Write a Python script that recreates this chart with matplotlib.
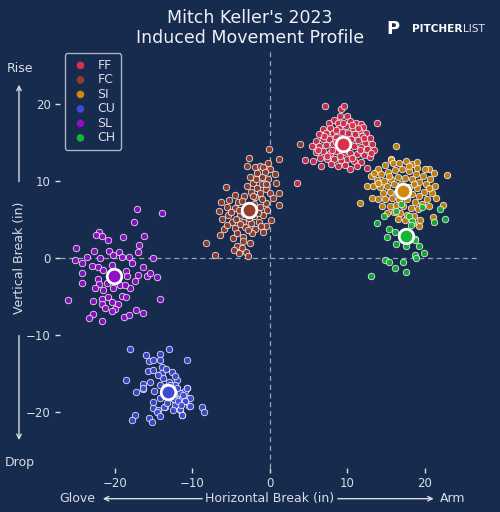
import matplotlib
matplotlib.use("Agg")
import matplotlib.pyplot as plt
from matplotlib.patches import FancyArrowPatch

# ---------------- data ----------------
pitch_types = ["FF", "FC", "SI", "CU", "SL", "CH"]
pitch_colors = ["#d8304d", "#953f2b", "#d0890c", "#4049d4", "#9010c8", "#12b733"]

ff_hb = [7.1, 9.2, 9.6, 9.1, 9.9, 13.8, 4.5, 5.6, 3.5, 6.6, 12.5, 10.4,
         7.6, 8.3, 8.8, 10.3, 11.1, 11.8, 12.0, 6.9, 7.8, 8.9, 9.8, 10.7, 11.5, 12.4,
         6.4, 7.3, 8.2, 9.3, 10.1, 11.0, 11.9, 12.9, 5.9, 6.8, 7.6, 8.5, 10.5, 11.4,
         12.3, 13.2, 5.4, 6.3, 7.2, 8.1, 10.8, 11.7, 12.6, 13.5, 6.0, 6.9, 7.7, 8.6,
         9.5, 10.3, 11.2, 12.1, 12.9, 6.5, 7.4, 8.3, 9.2, 10.0, 10.9, 11.8, 7.9, 8.8,
         9.7, 11.3, 8.6, 9.9, 7.0, 8.0, 9.0, 10.6, 11.6, 12.2, 9.4, 10.6, 8.5, 11.4,
         6.2, 13.0, 7.4]
ff_ivb = [19.7, 19.4, 19.7, 18.4, 18.4, 17.6, 12.7, 12.6, 9.8, 11.9, 11.7, 11.5,
          17.6, 17.9, 17.6, 17.8, 17.5, 17.4, 17.0, 16.8, 16.9, 16.9, 17.1, 16.9, 16.6, 16.2,
          16.1, 16.2, 16.3, 16.4, 16.3, 16.1, 15.8, 15.6, 15.2, 15.4, 15.5, 15.7, 15.5, 15.3,
          15.0, 14.8, 14.6, 14.5, 14.7, 14.8, 14.6, 14.4, 14.2, 14.0, 13.8, 13.9, 13.6, 13.9,
          13.8, 13.7, 13.5, 13.4, 13.1, 13.0, 12.8, 12.9, 12.7, 12.9, 12.6, 12.5, 12.2, 11.9,
          12.1, 11.9, 15.1, 15.0, 15.9, 14.0, 13.3, 13.0, 14.0, 15.6, 17.5, 17.3, 16.6, 16.9,
          14.0, 13.6, 13.3]

fc_hb = [-0.08, -2.71, 1.16, -3.0, -1.93, -1.29, -0.86, 0.0, -0.64, -1.63, -1.07, -2.58,
         -0.21, 0.73, -2.15, -1.07, -5.67, -1.63, -0.52, -2.5, 1.16, -1.29, 0.0, -4.5,
         -3.35, -1.93, 0.43, -6.36, -5.24, -4.08, -0.52, 1.16, -5.59, -4.5, -1.29, -0.34,
         -6.54, -5.37, -3.87, -2.06, -0.86, 0.09, -6.23, -4.94, -3.44, -2.49, -1.38, -5.93,
         -4.51, -3.22, -1.93, -0.52, -6.45, -4.73, -3.44, -2.36, -0.86, -8.25, -2.58, -4.3,
         -3.65, -4.64, -3.09, -3.95, -2.8, -7.14,
         -2.0, -3.0, -4.0, -3.4, -1.5, -2.7, -3.9, -4.4, -2.2, -1.0, -3.6, -5.0, -1.8,
         -0.5, -2.9, -4.2, -5.5, -1.2, -2.8, -3.5, 0.6, -0.3, 3.87]
fc_ivb = [14.15, 12.94, 12.85, 11.98, 11.86, 11.94, 11.77, 11.51, 11.2, 11.08, 10.56, 10.47,
          10.2, 9.78, 9.78, 9.56, 9.26, 9.04, 8.91, 8.61, 8.48, 8.39, 8.39, 8.18,
          8.05, 7.87, 7.74, 7.31, 7.53, 7.31, 7.18, 6.88, 6.66, 6.45, 6.66, 6.23,
          6.14, 5.58, 5.58, 5.45, 5.58, 4.93, 5.02, 4.71, 4.71, 4.5, 4.71, 3.72,
          3.85, 3.98, 3.72, 4.15, 2.98, 2.55, 2.77, 3.2, 3.42, 1.9, 1.99, 1.55,
          1.25, 1.03, 0.82, 0.69, 0.26, 0.39,
          7.0, 6.8, 6.2, 5.9, 5.9, 5.2, 4.4, 5.1, 8.1, 7.6, 7.4, 6.0, 10.3,
          9.6, 9.3, 3.2, 4.3, 4.2, 3.6, 2.2, 10.9, 12.4, 14.8]

si_hb = [16.3, 15.6, 15.6, 11.6, 12.5, 13.1, 13.2, 22.9, 22.4, 21.0, 19.3, 19.4,
         14.0, 14.9, 15.9, 16.7, 17.6, 18.3, 19.0, 20.6, 21.2, 13.5, 14.4, 15.3, 16.2,
         17.1, 18.0, 18.9, 19.8, 20.7, 13.8, 14.7, 15.6, 16.5, 17.4, 18.4, 19.3, 20.2,
         21.3, 13.3, 14.2, 15.1, 16.0, 16.9, 18.0, 19.0, 19.9, 20.9, 14.6, 15.5, 16.4,
         18.3, 19.3, 20.3, 21.4, 14.0, 14.9, 15.8, 16.7, 17.7, 18.7, 19.7, 20.6, 14.5,
         15.5, 16.3, 17.2, 18.2, 19.1, 15.1, 16.0, 16.8, 17.7, 18.6, 16.5, 17.5, 18.5,
         19.0, 17.9, 20.0, 15.4, 17.0, 18.6, 20.5, 14.0]
si_ivb = [14.5, 12.8, 12.7, 7.2, 9.3, 10.7, 7.75, 10.8, 6.9, 5.3, 4.2, 4.9,
          11.6, 12.1, 12.3, 12.4, 12.6, 12.2, 11.7, 11.6, 11.0, 11.0, 10.9, 11.2, 11.4,
          11.5, 11.3, 10.9, 10.6, 10.2, 10.1, 10.0, 10.3, 10.5, 10.4, 10.2, 9.9, 9.6,
          9.4, 9.3, 9.2, 9.4, 9.6, 9.6, 9.2, 9.1, 8.6, 8.4, 8.4, 8.6, 8.6,
          8.3, 8.1, 7.7, 7.8, 7.6, 7.7, 7.8, 7.7, 7.6, 7.3, 7.0, 6.7, 6.7,
          6.8, 6.9, 6.7, 6.5, 6.3, 5.9, 6.0, 5.8, 5.6, 5.5, 5.1, 4.9, 4.6,
          12.5, 11.9, 11.5, 10.7, 9.0, 9.6, 9.1, 9.8]

cu_hb = [-18.07, -16.05, -14.2, -13.04, -15.57, -15.06, -14.2, -10.76, -13.98, -15.7,
         -15.14, -13.98, -12.69, -13.77, -12.05, -18.59, -16.35, -15.49, -14.2, -13.0,
         -12.26, -16.43, -17.34, -14.93, -10.76, -11.83, -10.97, -14.2, -12.39, -11.4,
         -10.54, -15.06, -11.83, -10.97, -10.41, -15.06, -14.41, -13.55, -12.13, -11.62,
         -8.82, -8.52, -17.43, -14.63, -14.2, -11.4, -17.77, -15.57, -15.27,
         -16.35, -13.68, -11.35, -11.57, -10.37, -10.37, -10.93, -12.2, -12.43, -11.57,
         -10.71, -12.86,
         -12.6, -12.0, -13.5, -12.9, -11.9, -12.5, -13.3, -11.2, -12.2, -13.4, -14.5, -11.5]
cu_ivb = [-11.82, -12.6, -12.51, -11.86, -13.38, -13.25, -13.33, -13.33, -14.2, -14.76,
          -14.54, -14.98, -14.89, -15.63, -15.84, -15.93, -16.36, -16.19, -16.49, -16.19,
          -16.49, -17.01, -17.4, -17.27, -16.93, -17.58, -17.36, -18.23, -18.35, -18.23,
          -18.23, -18.79, -18.87, -18.66, -19.22, -19.52, -19.74, -19.39, -19.31, -19.83,
          -19.44, -20.09, -20.39, -20.09, -20.61, -20.48, -21.04, -20.82, -21.38,
          -16.93, -19.4, -20.39, -19.66, -19.22, -18.23, -18.66, -19.09, -18.36, -17.58,
          -16.93, -16.5,
          -17.0, -16.9, -16.8, -18.0, -18.6, -19.8, -18.9, -17.8, -15.4, -14.5, -15.2, -19.1]

sl_hb = [-17.12, -13.98, -17.55, -22.02, -22.5, -21.72, -20.95, -18.93, -16.26, -16.9,
         -25.04, -22.71, -20.73, -19.49, -17.08, -20.22, -23.66, -21.94, -19.14, -18.2,
         -15.14, -25.17, -24.3, -23.01, -22.15, -21.51, -20.43, -17.85, -16.35, -18.58,
         -24.26, -16.99, -15.92, -15.49, -14.54, -22.15, -18.5, -24.3, -17.42, -22.02,
         -20.99, -19.36, -18.07, -22.58, -21.51, -20.22, -18.71, -26.02, -22.88, -21.72,
         -20.86, -19.14, -18.58, -14.2, -21.72, -20.43, -19.57, -21.29, -20.0, -17.29,
         -16.35, -22.88, -23.31, -18.84, -18.2, -21.64, -20.43]
sl_ivb = [6.32, 5.8, 4.72, 3.42, 2.99, 2.86, 2.34, 2.77, 2.9, 1.69,
          1.34, 0.95, 0.95, 0.82, 0.73, 0.39, 0.17, 0.04, 0.08, 0.17,
          -0.04, -0.26, -0.6, -1.04, -1.21, -1.56, -0.91, -0.69, -1.13, -1.65,
          -1.91, -2.21, -2.34, -1.99, -2.51, -2.77, -2.34, -3.29, -2.94, -3.38,
          -3.29, -3.51, -3.94, -3.85, -4.16, -3.94, -3.51, -5.45, -5.58, -5.37,
          -5.11, -4.94, -5.11, -5.37, -5.97, -5.67, -5.97, -6.54, -6.67, -6.75,
          -7.1, -7.27, -7.84, -7.62, -7.4, -8.18, -6.84]

ch_hb = [16.3, 16.9, 19.6, 22.0, 22.6, 21.2, 14.7, 13.8, 15.4, 16.1, 15.1, 16.3, 17.6,
         18.8, 19.2, 19.96, 18.8, 18.9, 14.8, 15.4, 17.2, 16.2, 17.6, 13.1, 18.0, 18.3,
         18.2, 18.7]
ch_ivb = [6.15, 7.0, 6.6, 6.3, 5.0, 4.7, 5.4, 4.5, 3.7, 3.4, 2.7, 1.8, 1.6,
          2.5, 1.5, 0.6, 0.4, 0.04, -0.26, -0.47, -0.56, -1.34, -1.77, -2.3, 5.46, 4.85,
          4.3, 2.3]

# average movement per pitch (big markers)
avg_hb = [9.4, -2.7, 17.2, -13.2, -20.1, 17.6]
avg_ivb = [14.8, 6.2, 8.7, -17.45, -2.3, 2.8]

series_hb = [ff_hb, fc_hb, si_hb, cu_hb, sl_hb, ch_hb]
series_ivb = [ff_ivb, fc_ivb, si_ivb, cu_ivb, sl_ivb, ch_ivb]

x_ticks = [-20, -10, 0, 10, 20]
y_ticks = [-20, -10, 0, 10, 20]

# ---------------- style ----------------
BG = "#172b4f"
FG = "#d9dde4"

fig = plt.figure(figsize=(5.0, 5.12), dpi=100, facecolor=BG)
ax = fig.add_axes([0.12, 0.086, 0.838, 0.816], facecolor=BG)

ax.axhline(0, color="#b8bfcc", lw=0.9, ls=(0, (4, 3)), alpha=0.8, zorder=1)
ax.axvline(0, color="#b8bfcc", lw=0.9, ls=(0, (4, 3)), alpha=0.8, zorder=1)

handles = []
for name, col, hb, ivb in zip(pitch_types, pitch_colors, series_hb, series_ivb):
    h = ax.scatter(hb, ivb, s=22, color=col, alpha=0.9, edgecolors=(1, 1, 1, 0.28),
                   linewidths=0.55, zorder=3, label=name)
    handles.append(h)

for col, hb, ivb in zip(pitch_colors, avg_hb, avg_ivb):
    ax.scatter([hb], [ivb], s=110, color=col, edgecolors="white", linewidths=2.0, zorder=5)

ax.set_xlim(-27.1, 27.0)
ax.set_ylim(-27.3, 27.0)
ax.set_xticks(x_ticks)
ax.set_yticks(y_ticks)
for s in ax.spines.values():
    s.set_visible(False)
ax.tick_params(colors=FG, labelsize=8.5, length=3.5, width=1.0, direction="out", pad=3)

leg = ax.legend(handles=handles, loc="upper left", bbox_to_anchor=(0.0115, 0.993),
                frameon=True, fontsize=9, labelspacing=0.12, handletextpad=0.55,
                borderpad=0.45, scatterpoints=1, handlelength=1.6, borderaxespad=0.0)
leg.get_frame().set_facecolor(BG)
leg.get_frame().set_edgecolor("#aab2c0")
leg.get_frame().set_alpha(1.0)
leg.get_frame().set_linewidth(1.0)
for t in leg.get_texts():
    t.set_color(FG)
for lh in leg.legend_handles:
    lh.set_alpha(1.0)
    lh.set_edgecolor("none")
    lh.set_sizes([30])

fig.text(0.5, 0.965, "Mitch Keller's 2023", ha="center", va="center", color="#eef0f4", fontsize=12.5)
fig.text(0.5, 0.925, "Induced Movement Profile", ha="center", va="center", color="#eef0f4", fontsize=12.5)

# logo
fig.text(0.785, 0.944, "P", ha="center", va="center", color="white", fontsize=13,
         fontweight="bold")
t1 = fig.text(0.824, 0.943, "PITCHER", ha="left", va="center", color="white", fontsize=7.6,
              fontweight="bold")
ax.annotate("LIST", xy=(1.0, 0.5), xycoords=t1, xytext=(0.5, 0), textcoords="offset points",
            ha="left", va="center", color="#dfe3ea", fontsize=7.6, annotation_clip=False)

# axis labels with arrows
arrow_kw = dict(arrowstyle="->", color=FG, lw=1.0, mutation_scale=8)
fig.text(0.54, 0.026, "Horizontal Break (in)", ha="center", va="center", color=FG, fontsize=9)
fig.text(0.154, 0.026, "Glove", ha="center", va="center", color=FG, fontsize=9)
fig.text(0.906, 0.026, "Arm", ha="center", va="center", color=FG, fontsize=9)
fig.add_artist(FancyArrowPatch((0.41, 0.026), (0.2, 0.026), transform=fig.transFigure, **arrow_kw))
fig.add_artist(FancyArrowPatch((0.67, 0.026), (0.873, 0.026), transform=fig.transFigure, **arrow_kw))

fig.text(0.04, 0.496, "Vertical Break (in)", ha="center", va="center", color=FG,
         fontsize=9, rotation=90)
fig.text(0.04, 0.867, "Rise", ha="center", va="center", color=FG, fontsize=9)
fig.text(0.04, 0.097, "Drop", ha="center", va="center", color=FG, fontsize=9)
fig.add_artist(FancyArrowPatch((0.038, 0.64), (0.038, 0.84), transform=fig.transFigure, **arrow_kw))
fig.add_artist(FancyArrowPatch((0.038, 0.35), (0.038, 0.135), transform=fig.transFigure, **arrow_kw))

fig.savefig("out.png", dpi=100, facecolor=BG)
